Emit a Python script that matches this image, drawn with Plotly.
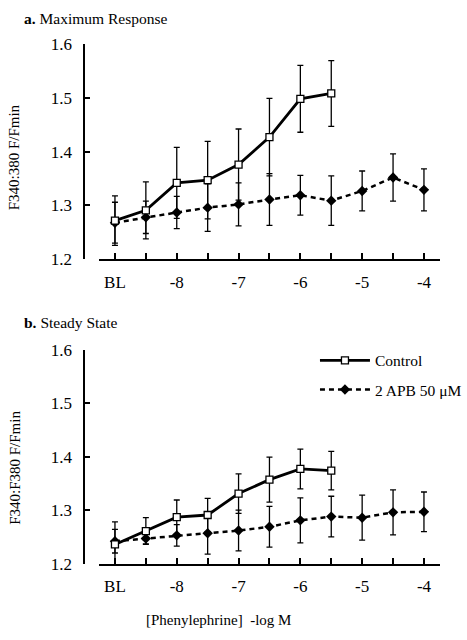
import plotly.graph_objects as go

# x positions: BL, -8.5, -8, ..., -4
x_labels = ["BL", "", "-8", "", "-7", "", "-6", "", "-5", "", "-4"]
x_idx = list(range(11))

# Panel a: Maximum Response
ctrl_a = [1.272, 1.291, 1.342, 1.347, 1.376, 1.427, 1.498, 1.508]
ctrl_a_err = [0.046, 0.053, 0.066, 0.072, 0.066, 0.072, 0.062, 0.061]
apb_a = [1.268, 1.278, 1.287, 1.296, 1.302, 1.311, 1.319, 1.309, 1.327, 1.352, 1.329]
apb_a_err = [0.038, 0.03, 0.03, 0.044, 0.04, 0.048, 0.037, 0.046, 0.037, 0.044, 0.039]

# Panel b: Steady State
ctrl_b = [1.236, 1.261, 1.287, 1.291, 1.331, 1.357, 1.377, 1.374]
ctrl_b_err = [0.042, 0.025, 0.032, 0.031, 0.037, 0.042, 0.037, 0.036]
apb_b = [1.242, 1.247, 1.253, 1.257, 1.262, 1.269, 1.281, 1.288, 1.286, 1.296, 1.297]
apb_b_err = [0.022, 0.01, 0.02, 0.039, 0.038, 0.038, 0.042, 0.038, 0.042, 0.042, 0.037]

y_ticks = [1.2, 1.3, 1.4, 1.5, 1.6]

FONT = "Liberation Serif"
W, H = 467, 640

fig = go.Figure()

def add_pair(xa, ya, ctrl, ctrl_err, apb, apb_err, show):
    fig.add_trace(go.Scatter(
        x=x_idx[:len(apb)], y=apb, xaxis=xa, yaxis=ya,
        mode="lines+markers", name="2 APB 50 \u03bcM", legendgroup="b",
        legendrank=2, showlegend=show,
        line=dict(color="black", width=2.5, dash="5px,4px"),
        marker=dict(symbol="diamond", size=8, color="black"),
        error_y=dict(type="data", array=apb_err, color="black", thickness=1.3, width=3),
    ))
    fig.add_trace(go.Scatter(
        x=x_idx[:len(ctrl)], y=ctrl, xaxis=xa, yaxis=ya,
        mode="lines+markers", name="Control", legendgroup="a",
        legendrank=1, showlegend=show,
        line=dict(color="black", width=2.8),
        marker=dict(symbol="square", size=7, color="white", line=dict(color="black", width=1.3)),
        error_y=dict(type="data", array=ctrl_err, color="black", thickness=1.3, width=3),
    ))

add_pair("x", "y", ctrl_a, ctrl_a_err, apb_a, apb_a_err, False)
add_pair("x2", "y2", ctrl_b, ctrl_b_err, apb_b, apb_b_err, True)

xdom = [100 / W, 443 / W]
xrange_ = [-0.505, 10.524]
ypos = 85 / W

def xaxis(anchor):
    return dict(domain=xdom, range=xrange_, anchor=anchor, showline=True, linecolor="black",
                linewidth=2, ticks="inside", ticklen=6, tickwidth=2, tickcolor="black",
                tickvals=x_idx, ticktext=x_labels, showgrid=False, zeroline=False,
                tickfont=dict(family=FONT, size=17, color="black"), ticklabelstandoff=6)

def yaxis(dom):
    return dict(domain=dom, range=[1.2, 1.6], anchor="free", position=ypos, showline=True,
                linecolor="black", linewidth=2, ticks="inside", ticklen=5, tickwidth=2,
                tickcolor="black", tickvals=y_ticks, ticktext=["1.2", "1.3", "1.4", "1.5", "1.6"],
                showgrid=False, zeroline=False,
                tickfont=dict(family=FONT, size=17, color="black"), ticklabelstandoff=8)

fig.update_layout(
    width=W, height=H,
    margin=dict(l=0, r=0, t=0, b=0),
    paper_bgcolor="white", plot_bgcolor="white",
    font=dict(family=FONT, color="black"),
    xaxis=xaxis("y"),
    yaxis=yaxis([1 - 258 / H, 1 - 36 / H]),
    xaxis2=xaxis("y2"),
    yaxis2=yaxis([1 - 571.7 / H, 1 - 351 / H]),
    showlegend=True,
    legend=dict(x=317 / W, y=1 - 345 / H, xanchor="left", yanchor="top",
                font=dict(family=FONT, size=15.5, color="black"), itemwidth=50,
                traceorder="grouped", tracegroupgap=6, bgcolor="rgba(0,0,0,0)"),
    annotations=[
        dict(text="<b>a.</b> Maximum Response", x=22 / W, y=1 - 10 / H, xref="paper", yref="paper",
             xanchor="left", yanchor="middle", showarrow=False, font=dict(family=FONT, size=15.5)),
        dict(text="<b>b.</b> Steady State", x=22 / W, y=1 - 323 / H, xref="paper", yref="paper",
             xanchor="left", yanchor="middle", showarrow=False, font=dict(family=FONT, size=15.5)),
        dict(text="F340:380 F/Fmin", x=15 / W, y=1 - 153 / H, xref="paper", yref="paper",
             xanchor="center", yanchor="middle", textangle=-90, showarrow=False,
             font=dict(family=FONT, size=15)),
        dict(text="F340:F380 F/Fmin", x=15 / W, y=1 - 473 / H, xref="paper", yref="paper",
             xanchor="center", yanchor="middle", textangle=-90, showarrow=False,
             font=dict(family=FONT, size=15)),
        dict(text="[Phenylephrine]  -log M", x=220 / W, y=1 - 630 / H, xref="paper", yref="paper",
             xanchor="center", yanchor="middle", showarrow=False, font=dict(family=FONT, size=15)),
    ],
)

fig.write_html("out.html", config={"displayModeBar": False},
               post_script="document.body.style.margin='0';")
